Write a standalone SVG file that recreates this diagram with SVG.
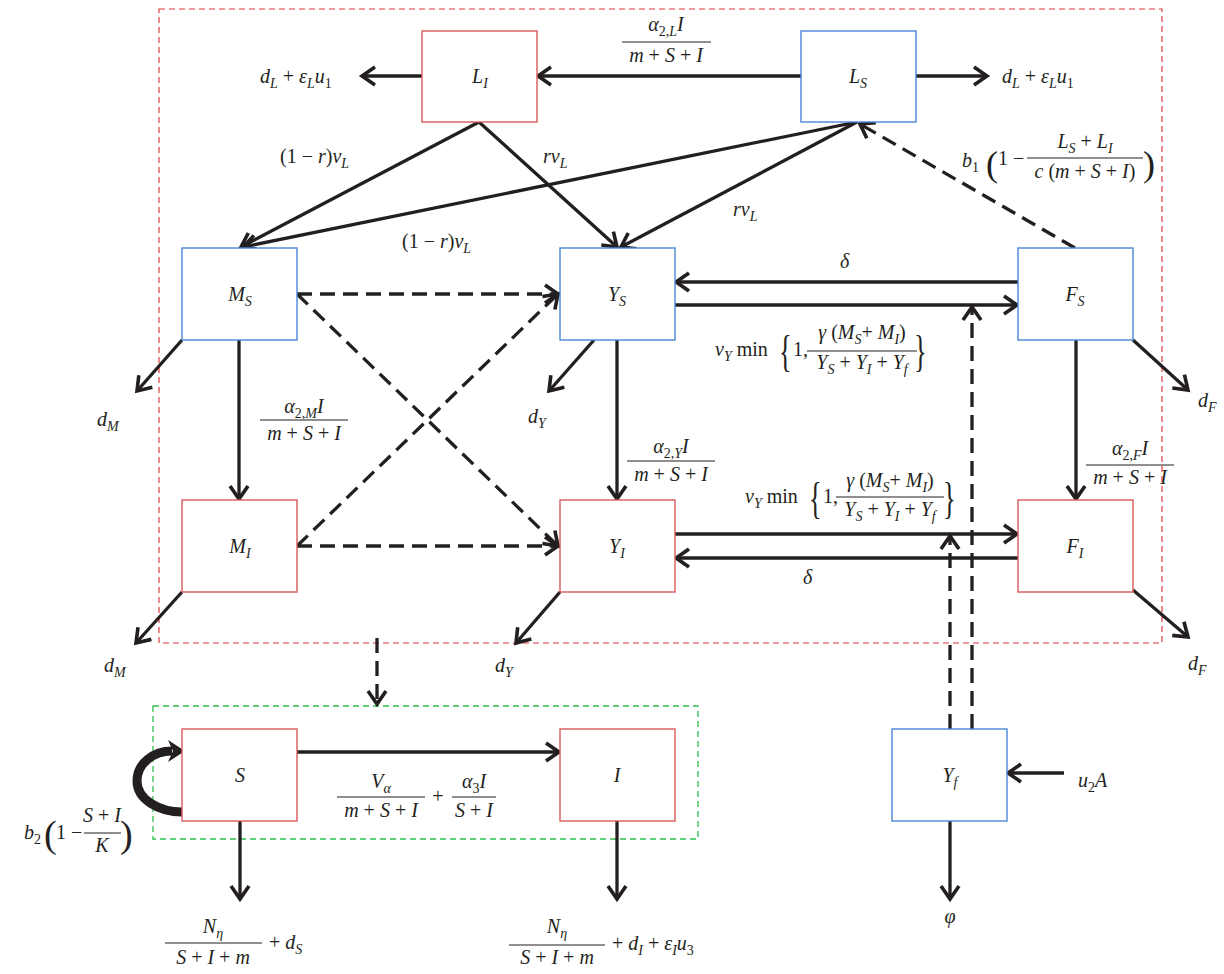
<svg xmlns="http://www.w3.org/2000/svg" width="1224" height="974" viewBox="0 0 1224 974">
<style>
.f{font-family:"Liberation Serif","DejaVu Serif",serif;font-size:20px;fill:#231f20}
.i{font-style:italic}
.sb{font-size:14px}
.c{text-anchor:middle}
.nl{font-family:"Liberation Serif","DejaVu Serif",serif;font-size:20px;font-style:italic;fill:#231f20;text-anchor:middle}
.nsb{font-size:14px}
.rb{fill:#fff;stroke:#d9595c;stroke-width:1.4}
.bb{fill:#fff;stroke:#4a87d4;stroke-width:1.4}
.ln{fill:none;stroke:#231f20;stroke-width:3.3;marker-end:url(#ah)}
.ds{stroke-dasharray:15 8}
.bar{stroke:#231f20;stroke-width:1.2}
.frame{fill:none;stroke:#e0393e;stroke-width:1.2;stroke-dasharray:6 4}
.gframe{fill:none;stroke:#2fbf4f;stroke-width:1.3;stroke-dasharray:6 4}
</style>
<defs>
<marker id="ah" markerUnits="userSpaceOnUse" markerWidth="22" markerHeight="24" refX="15" refY="11" orient="auto" overflow="visible">
<path d="M2,2 L15,11 L2,20" fill="none" stroke="#231f20" stroke-width="3.6"/>
</marker>
</defs>
<rect width="1224" height="974" fill="#fff"/>
<rect class="frame" x="159" y="9" width="1003" height="634"/>
<rect class="gframe" x="153" y="706" width="545" height="133"/>

<g id="connectors">
<path class="ln" d="M422,76 L362,76"/>
<path class="ln" d="M801,76 L538,76"/>
<path class="ln" d="M916,76 L987,76"/>
<path class="ln" d="M479,122 L241,247"/>
<path class="ln" d="M479,122 L617,247"/>
<path class="ln" d="M857,122 L243,247"/>
<path class="ln" d="M857,122 L621,247"/>
<path class="ln ds" d="M1075,248 L860,124"/>
<path class="ln" d="M239,340 L239,499"/>
<path class="ln" d="M182,340 L137,391"/>
<path class="ln" d="M594,340 L549,391"/>
<path class="ln" d="M1133,340 L1188,390"/>
<path class="ln" d="M182,592 L136,643"/>
<path class="ln" d="M560,592 L516,643"/>
<path class="ln" d="M1133,590 L1188,637"/>
<path class="ln" d="M1018,282 L676,282"/>
<path class="ln" d="M675,305 L1017,305"/>
<path class="ln" d="M675,534 L1017,534"/>
<path class="ln" d="M1018,558 L676,558"/>
<path class="ln" d="M617,340 L617,499"/>
<path class="ln" d="M1076,340 L1076,499"/>
<path class="ln ds" d="M297,294 L558,294"/>
<path class="ln ds" d="M297,294 L558,546"/>
<path class="ln ds" d="M297,546 L558,294"/>
<path class="ln ds" d="M297,546 L558,546"/>
<path class="ln ds" d="M972,729 L972,307"/>
<path class="ln ds" d="M950,729 L950,536"/>
<path class="ln ds" d="M377,638 L377,704"/>
<path class="ln" d="M297,752 L559,752"/>
<path class="ln" d="M240,821 L240,899"/>
<path class="ln" d="M617,821 L617,899"/>
<path class="ln" d="M1064,773 L1008,773"/>
<path class="ln" d="M950,821 L950,899"/>
<path d="M182,812 C160,812 137,800 137,781 C137,763 154,751 172,751" fill="none" stroke="#231f20" stroke-width="9"/>
<polygon points="168,740 185,751 168,762 173,751" fill="#231f20"/>
</g>

<g id="node-LI"><rect class="rb" x="422" y="31" width="115" height="91"/><text class="nl" x="480" y="83">L<tspan class="nsb" dy="5">I</tspan></text></g>
<g id="node-LS"><rect class="bb" x="801" y="31" width="115" height="91"/><text class="nl" x="858" y="83">L<tspan class="nsb" dy="5">S</tspan></text></g>
<g id="node-MS"><rect class="bb" x="182" y="248" width="115" height="92"/><text class="nl" x="240" y="301">M<tspan class="nsb" dy="5">S</tspan></text></g>
<g id="node-YS"><rect class="bb" x="560" y="248" width="115" height="92"/><text class="nl" x="617" y="301">Y<tspan class="nsb" dy="5">S</tspan></text></g>
<g id="node-FS"><rect class="bb" x="1018" y="248" width="115" height="92"/><text class="nl" x="1075" y="301">F<tspan class="nsb" dy="5">S</tspan></text></g>
<g id="node-MI"><rect class="rb" x="182" y="500" width="115" height="92"/><text class="nl" x="240" y="553">M<tspan class="nsb" dy="5">I</tspan></text></g>
<g id="node-YI"><rect class="rb" x="560" y="500" width="115" height="92"/><text class="nl" x="617" y="553">Y<tspan class="nsb" dy="5">I</tspan></text></g>
<g id="node-FI"><rect class="rb" x="1018" y="500" width="115" height="92"/><text class="nl" x="1075" y="553">F<tspan class="nsb" dy="5">I</tspan></text></g>
<g id="node-S"><rect class="rb" x="182" y="729" width="115" height="92"/><text class="nl" x="240" y="782">S</text></g>
<g id="node-I"><rect class="rb" x="560" y="729" width="115" height="92"/><text class="nl" x="617" y="782">I</text></g>
<g id="node-Yf"><rect class="bb" x="892" y="729" width="115" height="92"/><text class="nl" x="950" y="782">Y<tspan class="nsb" dy="5">f</tspan></text></g>

<g id="labels">
<text class="f" x="260" y="83"><tspan class="i">d</tspan><tspan class="sb i" dy="5">L</tspan><tspan dy="-5"> + </tspan><tspan class="i">ε</tspan><tspan class="sb i" dy="5">L</tspan><tspan class="i" dy="-5">u</tspan><tspan class="sb" dy="5">1</tspan></text>
<text class="f" x="1002" y="83"><tspan class="i">d</tspan><tspan class="sb i" dy="5">L</tspan><tspan dy="-5"> + </tspan><tspan class="i">ε</tspan><tspan class="sb i" dy="5">L</tspan><tspan class="i" dy="-5">u</tspan><tspan class="sb" dy="5">1</tspan></text>

<text class="f c" x="666" y="31"><tspan class="i">α</tspan><tspan class="sb" dy="5">2,<tspan class="i">L</tspan></tspan><tspan class="i" dy="-5">I</tspan></text>
<line class="bar" x1="622" y1="42" x2="711" y2="42"/>
<text class="f c" x="666" y="62"><tspan class="i">m</tspan> + <tspan class="i">S</tspan> + <tspan class="i">I</tspan></text>

<text class="f" x="280" y="163">(1 − <tspan class="i">r</tspan>)<tspan class="i">ν</tspan><tspan class="sb i" dy="5">L</tspan></text>
<text class="f" x="543" y="163"><tspan class="i">rν</tspan><tspan class="sb i" dy="5">L</tspan></text>
<text class="f" x="402" y="248">(1 − <tspan class="i">r</tspan>)<tspan class="i">ν</tspan><tspan class="sb i" dy="5">L</tspan></text>
<text class="f" x="733" y="216"><tspan class="i">rν</tspan><tspan class="sb i" dy="5">L</tspan></text>

<text class="f" x="962" y="167"><tspan class="i">b</tspan><tspan class="sb" dy="5">1</tspan></text>
<text class="f" x="986" y="176" style="font-size:36px">(</text>
<text class="f" x="998" y="165">1 −</text>
<text class="f c" x="1085" y="148"><tspan class="i">L</tspan><tspan class="sb i" dy="5">S</tspan><tspan dy="-5"> + </tspan><tspan class="i">L</tspan><tspan class="sb i" dy="5">I</tspan></text>
<line class="bar" x1="1027" y1="158" x2="1143" y2="158"/>
<text class="f c" x="1085" y="178"><tspan class="i">c</tspan> (<tspan class="i">m</tspan> + <tspan class="i">S</tspan> + <tspan class="i">I</tspan>)</text>
<text class="f" x="1143" y="176" style="font-size:36px">)</text>

<text class="f i" x="840" y="268">δ</text>
<text class="f i" x="803" y="584">δ</text>

<text class="f" x="715" y="356"><tspan class="i">ν</tspan><tspan class="sb i" dy="5">Y</tspan><tspan dy="-5"> min</tspan></text>
<text class="f" transform="translate(779,366) scale(0.6,1)" style="font-size:44px">{</text>
<text class="f" x="793" y="356">1,</text>
<text class="f c" x="862" y="339"><tspan class="i">γ</tspan> (<tspan class="i">M</tspan><tspan class="sb i" dy="5">S</tspan><tspan dy="-5">+ </tspan><tspan class="i">M</tspan><tspan class="sb i" dy="5">I</tspan><tspan dy="-5">)</tspan></text>
<line class="bar" x1="807" y1="351" x2="917" y2="351"/>
<text class="f c" x="862" y="369"><tspan class="i">Y</tspan><tspan class="sb i" dy="5">S</tspan><tspan dy="-5"> + </tspan><tspan class="i">Y</tspan><tspan class="sb i" dy="5">I</tspan><tspan dy="-5"> + </tspan><tspan class="i">Y</tspan><tspan class="sb i" dy="5">f</tspan></text>
<text class="f" transform="translate(914,366) scale(0.6,1)" style="font-size:44px">}</text>

<text class="f" x="745" y="503"><tspan class="i">ν</tspan><tspan class="sb i" dy="5">Y</tspan><tspan dy="-5"> min</tspan></text>
<text class="f" transform="translate(809,513) scale(0.6,1)" style="font-size:44px">{</text>
<text class="f" x="823" y="503">1,</text>
<text class="f c" x="890" y="487"><tspan class="i">γ</tspan> (<tspan class="i">M</tspan><tspan class="sb i" dy="5">S</tspan><tspan dy="-5">+ </tspan><tspan class="i">M</tspan><tspan class="sb i" dy="5">I</tspan><tspan dy="-5">)</tspan></text>
<line class="bar" x1="836" y1="497" x2="944" y2="497"/>
<text class="f c" x="890" y="516"><tspan class="i">Y</tspan><tspan class="sb i" dy="5">S</tspan><tspan dy="-5"> + </tspan><tspan class="i">Y</tspan><tspan class="sb i" dy="5">I</tspan><tspan dy="-5"> + </tspan><tspan class="i">Y</tspan><tspan class="sb i" dy="5">f</tspan></text>
<text class="f" transform="translate(943,513) scale(0.6,1)" style="font-size:44px">}</text>

<text class="f c" x="304" y="413"><tspan class="i">α</tspan><tspan class="sb" dy="5">2,<tspan class="i">M</tspan></tspan><tspan class="i" dy="-5">I</tspan></text>
<line class="bar" x1="260" y1="420" x2="348" y2="420"/>
<text class="f c" x="304" y="440"><tspan class="i">m</tspan> + <tspan class="i">S</tspan> + <tspan class="i">I</tspan></text>

<text class="f c" x="671" y="453"><tspan class="i">α</tspan><tspan class="sb" dy="5">2,<tspan class="i">Y</tspan></tspan><tspan class="i" dy="-5">I</tspan></text>
<line class="bar" x1="627" y1="461" x2="715" y2="461"/>
<text class="f c" x="671" y="481"><tspan class="i">m</tspan> + <tspan class="i">S</tspan> + <tspan class="i">I</tspan></text>

<text class="f c" x="1130" y="455"><tspan class="i">α</tspan><tspan class="sb" dy="5">2,<tspan class="i">F</tspan></tspan><tspan class="i" dy="-5">I</tspan></text>
<line class="bar" x1="1086" y1="465" x2="1174" y2="465"/>
<text class="f c" x="1130" y="484"><tspan class="i">m</tspan> + <tspan class="i">S</tspan> + <tspan class="i">I</tspan></text>

<text class="f" x="97" y="426"><tspan class="i">d</tspan><tspan class="sb i" dy="5">M</tspan></text>
<text class="f" x="528" y="423"><tspan class="i">d</tspan><tspan class="sb i" dy="5">Y</tspan></text>
<text class="f" x="1198" y="407"><tspan class="i">d</tspan><tspan class="sb i" dy="5">F</tspan></text>
<text class="f" x="104" y="672"><tspan class="i">d</tspan><tspan class="sb i" dy="5">M</tspan></text>
<text class="f" x="495" y="672"><tspan class="i">d</tspan><tspan class="sb i" dy="5">Y</tspan></text>
<text class="f" x="1188" y="670"><tspan class="i">d</tspan><tspan class="sb i" dy="5">F</tspan></text>

<text class="f c" x="381" y="788"><tspan class="i">V</tspan><tspan class="sb i" dy="5">α</tspan></text>
<line class="bar" x1="337" y1="797" x2="425" y2="797"/>
<text class="f c" x="381" y="817"><tspan class="i">m</tspan> + <tspan class="i">S</tspan> + <tspan class="i">I</tspan></text>
<text class="f c" x="438" y="803">+</text>
<text class="f c" x="474" y="788"><tspan class="i">α</tspan><tspan class="sb" dy="5">3</tspan><tspan class="i" dy="-5">I</tspan></text>
<line class="bar" x1="452" y1="797" x2="496" y2="797"/>
<text class="f c" x="474" y="817"><tspan class="i">S</tspan> + <tspan class="i">I</tspan></text>

<text class="f" x="24" y="839"><tspan class="i">b</tspan><tspan class="sb" dy="5">2</tspan></text>
<text class="f" x="44" y="847" style="font-size:38px">(</text>
<text class="f" x="56" y="839">1 −</text>
<text class="f c" x="102" y="822"><tspan class="i">S</tspan> + <tspan class="i">I</tspan></text>
<line class="bar" x1="84" y1="833" x2="121" y2="833"/>
<text class="f c i" x="102" y="852">K</text>
<text class="f" x="120" y="847" style="font-size:38px">)</text>

<text class="f c" x="213" y="933"><tspan class="i">N</tspan><tspan class="sb i" dy="5">η</tspan></text>
<line class="bar" x1="165" y1="943" x2="262" y2="943"/>
<text class="f c" x="213" y="964"><tspan class="i">S</tspan> + <tspan class="i">I</tspan> + <tspan class="i">m</tspan></text>
<text class="f" x="269" y="949">+ <tspan class="i">d</tspan><tspan class="sb i" dy="5">S</tspan></text>

<text class="f c" x="557" y="933"><tspan class="i">N</tspan><tspan class="sb i" dy="5">η</tspan></text>
<line class="bar" x1="509" y1="945" x2="605" y2="945"/>
<text class="f c" x="557" y="964"><tspan class="i">S</tspan> + <tspan class="i">I</tspan> + <tspan class="i">m</tspan></text>
<text class="f" x="612" y="950">+ <tspan class="i">d</tspan><tspan class="sb i" dy="5">I</tspan><tspan dy="-5"> + </tspan><tspan class="i">ε</tspan><tspan class="sb i" dy="5">I</tspan><tspan class="i" dy="-5">u</tspan><tspan class="sb" dy="5">3</tspan></text>

<text class="f" x="1078" y="787"><tspan class="i">u</tspan><tspan class="sb" dy="5">2</tspan><tspan class="i" dy="-5">A</tspan></text>
<text class="f c i" x="950" y="923">φ</text>
</g>
</svg>
